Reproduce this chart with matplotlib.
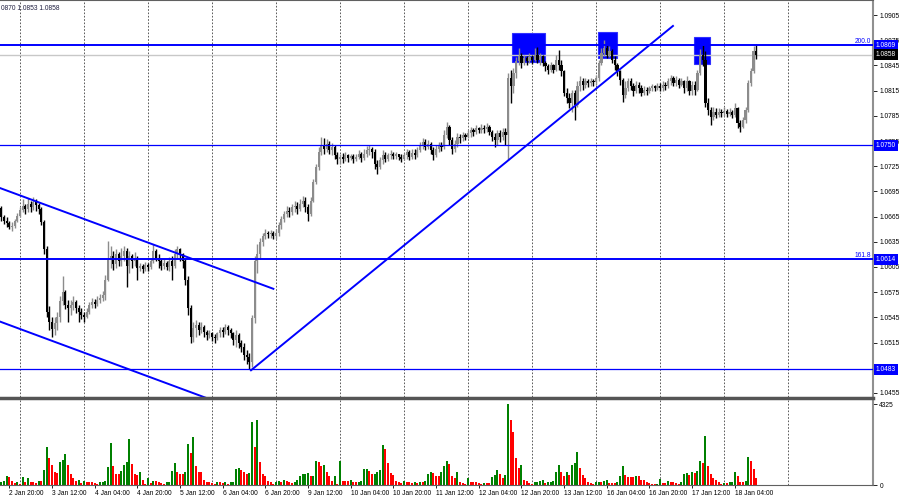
import numpy as np
import pandas as pd
import matplotlib
matplotlib.use('Agg')
import matplotlib.pyplot as plt
import matplotlib.transforms as mtransforms
from matplotlib.lines import Line2D
from matplotlib.patches import Rectangle
from matplotlib.ticker import FormatStrFormatter

plt.rcParams['font.family'] = ['Liberation Sans', 'DejaVu Sans']

# EURUSD H1, 2 Jan 17:00 .. 18 Jan 12:00
first_open = 1.0675
close = [
    1.0664, 1.0660, 1.0657, 1.0653, 1.0654, 1.0660, 1.0666,
    1.0673, 1.0678, 1.0674, 1.0680, 1.0676, 1.0682, 1.0679, 1.0674,
    1.0659, 1.0626, 1.0552, 1.0540, 1.0531, 1.0538, 1.0546, 1.0564,
    1.0575, 1.0560, 1.0556, 1.0560, 1.0563, 1.0556, 1.0551, 1.0548,
    1.0546, 1.0552, 1.0560, 1.0563, 1.0561, 1.0566, 1.0568, 1.0572,
    1.0590, 1.0614, 1.0618, 1.0608, 1.0620, 1.0612, 1.0618, 1.0624,
    1.0606, 1.0618, 1.0612, 1.0616, 1.0604, 1.0606, 1.0603, 1.0607,
    1.0605, 1.0612, 1.0624, 1.0616, 1.0612, 1.0606, 1.0610, 1.0605,
    1.0612, 1.0606, 1.0620, 1.0626, 1.0620, 1.0612, 1.0590, 1.0556,
    1.0522, 1.0532, 1.0536, 1.0530, 1.0534, 1.0528, 1.0524, 1.0526,
    1.0522, 1.0520, 1.0526, 1.0530, 1.0528, 1.0533, 1.0530, 1.0526,
    1.0518, 1.0524, 1.0514, 1.0510, 1.0500, 1.0498, 1.0492, 1.0544,
    1.0612, 1.0620, 1.0635, 1.0642, 1.0645, 1.0644, 1.0646, 1.0642,
    1.0646, 1.0655, 1.0662, 1.0668, 1.0672, 1.0670, 1.0676, 1.0678,
    1.0674, 1.0680, 1.0684, 1.0676, 1.0668, 1.0684, 1.0706, 1.0724,
    1.0742, 1.0750, 1.0746, 1.0752, 1.0744, 1.0748, 1.0738, 1.0733,
    1.0736, 1.0734, 1.0738, 1.0735, 1.0737, 1.0733, 1.0736, 1.0739,
    1.0735, 1.0740, 1.0744, 1.0746, 1.0742, 1.0728, 1.0724, 1.0732,
    1.0738, 1.0734, 1.0738, 1.0740, 1.0737, 1.0739, 1.0736, 1.0734,
    1.0738, 1.0742, 1.0736, 1.0741, 1.0738, 1.0744, 1.0750, 1.0754,
    1.0748, 1.0752, 1.0744, 1.0738, 1.0746, 1.0750, 1.0748, 1.0762,
    1.0772, 1.0756, 1.0746, 1.0752, 1.0760, 1.0758, 1.0762, 1.0760,
    1.0764, 1.0768, 1.0766, 1.0770, 1.0768, 1.0771, 1.0769, 1.0772,
    1.0766, 1.0760, 1.0756, 1.0764, 1.0760, 1.0766, 1.0762, 1.0830,
    1.0820, 1.0836, 1.0850, 1.0856, 1.0848, 1.0854, 1.0850, 1.0855,
    1.0852, 1.0858, 1.0852, 1.0856, 1.0848, 1.0844, 1.0840, 1.0845,
    1.0840, 1.0852, 1.0846, 1.0838, 1.0812, 1.0806, 1.0800, 1.0812,
    1.0798, 1.0820, 1.0826, 1.0822, 1.0826, 1.0824, 1.0827, 1.0825,
    1.0830, 1.0848, 1.0860, 1.0866, 1.0858, 1.0862, 1.0852, 1.0846,
    1.0838, 1.0828, 1.0810, 1.0818, 1.0826, 1.0820, 1.0814, 1.0822,
    1.0818, 1.0812, 1.0816, 1.0814, 1.0818, 1.0820, 1.0818, 1.0821,
    1.0818, 1.0822, 1.0820, 1.0826, 1.0830, 1.0824, 1.0828, 1.0822,
    1.0826, 1.0818, 1.0826, 1.0814, 1.0822, 1.0816, 1.0836, 1.0858,
    1.0852, 1.0800, 1.0792, 1.0784, 1.0790, 1.0786, 1.0790, 1.0788,
    1.0791, 1.0787, 1.0790, 1.0786, 1.0794, 1.0776, 1.0772, 1.0780,
    1.0792, 1.0824, 1.0838, 1.0862, 1.0858,
]
high = [
    1.0678, 1.0667, 1.0664, 1.0660, 1.0658, 1.0662, 1.0669,
    1.0676, 1.0686, 1.0680, 1.0687, 1.0683, 1.0688, 1.0686, 1.0681,
    1.0676, 1.0661, 1.0630, 1.0558, 1.0545, 1.0546, 1.0552, 1.0570,
    1.0594, 1.0578, 1.0566, 1.0566, 1.0570, 1.0566, 1.0560, 1.0556,
    1.0552, 1.0556, 1.0563, 1.0568, 1.0567, 1.0570, 1.0573, 1.0576,
    1.0595, 1.0636, 1.0630, 1.0624, 1.0626, 1.0623, 1.0628, 1.0630,
    1.0628, 1.0624, 1.0620, 1.0623, 1.0618, 1.0610, 1.0609, 1.0611,
    1.0610, 1.0615, 1.0632, 1.0627, 1.0620, 1.0615, 1.0614, 1.0612,
    1.0617, 1.0618, 1.0626, 1.0630, 1.0628, 1.0622, 1.0615, 1.0594,
    1.0560, 1.0540, 1.0542, 1.0540, 1.0540, 1.0536, 1.0530, 1.0530,
    1.0528, 1.0525, 1.0528, 1.0534, 1.0533, 1.0537, 1.0536, 1.0532,
    1.0528, 1.0530, 1.0526, 1.0518, 1.0514, 1.0506, 1.0503, 1.0548,
    1.0618, 1.0632, 1.0640, 1.0646, 1.0650, 1.0648, 1.0649, 1.0648,
    1.0650, 1.0658, 1.0666, 1.0672, 1.0678, 1.0676, 1.0680, 1.0684,
    1.0682, 1.0686, 1.0690, 1.0688, 1.0680, 1.0688, 1.0710, 1.0728,
    1.0748, 1.0760, 1.0758, 1.0757, 1.0755, 1.0753, 1.0750, 1.0742,
    1.0740, 1.0741, 1.0742, 1.0740, 1.0740, 1.0739, 1.0740, 1.0744,
    1.0742, 1.0745, 1.0749, 1.0750, 1.0748, 1.0745, 1.0732, 1.0736,
    1.0744, 1.0742, 1.0741, 1.0744, 1.0742, 1.0742, 1.0740, 1.0739,
    1.0741, 1.0746, 1.0744, 1.0746, 1.0745, 1.0748, 1.0754, 1.0758,
    1.0757, 1.0756, 1.0754, 1.0748, 1.0750, 1.0754, 1.0754, 1.0768,
    1.0778, 1.0774, 1.0760, 1.0756, 1.0764, 1.0763, 1.0766, 1.0765,
    1.0768, 1.0772, 1.0771, 1.0774, 1.0772, 1.0775, 1.0774, 1.0776,
    1.0774, 1.0768, 1.0764, 1.0768, 1.0768, 1.0770, 1.0770, 1.0836,
    1.0840, 1.0842, 1.0855, 1.0866, 1.0860, 1.0858, 1.0856, 1.0860,
    1.0858, 1.0866, 1.0867, 1.0860, 1.0858, 1.0850, 1.0847, 1.0849,
    1.0847, 1.0858, 1.0863, 1.0852, 1.0840, 1.0818, 1.0812, 1.0816,
    1.0816, 1.0826, 1.0832, 1.0830, 1.0830, 1.0829, 1.0830, 1.0829,
    1.0834, 1.0852, 1.0866, 1.0875, 1.0870, 1.0868, 1.0864, 1.0856,
    1.0848, 1.0840, 1.0830, 1.0826, 1.0830, 1.0830, 1.0824, 1.0826,
    1.0825, 1.0822, 1.0820, 1.0819, 1.0821, 1.0823, 1.0822, 1.0824,
    1.0824, 1.0826, 1.0825, 1.0830, 1.0834, 1.0832, 1.0832, 1.0830,
    1.0830, 1.0828, 1.0832, 1.0828, 1.0826, 1.0826, 1.0840, 1.0864,
    1.0869, 1.0862, 1.0806, 1.0796, 1.0796, 1.0794, 1.0794, 1.0793,
    1.0795, 1.0793, 1.0794, 1.0792, 1.0800, 1.0796, 1.0780, 1.0784,
    1.0796, 1.0828, 1.0842, 1.0868, 1.0870,
]
low = [
    1.0660, 1.0656, 1.0653, 1.0650, 1.0648, 1.0652, 1.0658,
    1.0664, 1.0670, 1.0668, 1.0671, 1.0670, 1.0673, 1.0672, 1.0668,
    1.0655, 1.0620, 1.0545, 1.0530, 1.0522, 1.0524, 1.0530, 1.0540,
    1.0560, 1.0555, 1.0540, 1.0548, 1.0554, 1.0550, 1.0540, 1.0543,
    1.0540, 1.0544, 1.0549, 1.0556, 1.0556, 1.0558, 1.0562, 1.0564,
    1.0566, 1.0588, 1.0604, 1.0602, 1.0604, 1.0606, 1.0606, 1.0612,
    1.0581, 1.0598, 1.0604, 1.0606, 1.0590, 1.0600, 1.0598, 1.0600,
    1.0600, 1.0603, 1.0610, 1.0612, 1.0604, 1.0601, 1.0603, 1.0601,
    1.0600, 1.0590, 1.0604, 1.0614, 1.0612, 1.0604, 1.0584, 1.0548,
    1.0515, 1.0516, 1.0522, 1.0524, 1.0526, 1.0522, 1.0518, 1.0520,
    1.0517, 1.0515, 1.0518, 1.0522, 1.0522, 1.0525, 1.0524, 1.0520,
    1.0512, 1.0510, 1.0508, 1.0504, 1.0494, 1.0490, 1.0483, 1.0486,
    1.0538, 1.0598, 1.0615, 1.0630, 1.0638, 1.0640, 1.0640, 1.0638,
    1.0638, 1.0642, 1.0650, 1.0658, 1.0664, 1.0664, 1.0667, 1.0670,
    1.0668, 1.0672, 1.0676, 1.0670, 1.0660, 1.0666, 1.0682, 1.0704,
    1.0720, 1.0738, 1.0740, 1.0742, 1.0740, 1.0738, 1.0733, 1.0728,
    1.0728, 1.0729, 1.0731, 1.0730, 1.0732, 1.0729, 1.0731, 1.0733,
    1.0730, 1.0732, 1.0736, 1.0738, 1.0735, 1.0722, 1.0716, 1.0722,
    1.0728, 1.0730, 1.0731, 1.0734, 1.0733, 1.0734, 1.0732, 1.0730,
    1.0732, 1.0734, 1.0732, 1.0733, 1.0734, 1.0736, 1.0742, 1.0746,
    1.0744, 1.0745, 1.0740, 1.0732, 1.0736, 1.0742, 1.0743, 1.0746,
    1.0758, 1.0750, 1.0740, 1.0742, 1.0748, 1.0753, 1.0755, 1.0756,
    1.0758, 1.0760, 1.0761, 1.0763, 1.0764, 1.0765, 1.0764, 1.0766,
    1.0762, 1.0755, 1.0748, 1.0750, 1.0754, 1.0756, 1.0750, 1.0732,
    1.0800, 1.0812, 1.0830, 1.0845, 1.0842, 1.0845, 1.0846, 1.0848,
    1.0847, 1.0850, 1.0848, 1.0846, 1.0844, 1.0838, 1.0835, 1.0837,
    1.0836, 1.0838, 1.0840, 1.0832, 1.0808, 1.0800, 1.0794, 1.0790,
    1.0780, 1.0796, 1.0814, 1.0816, 1.0818, 1.0819, 1.0821, 1.0820,
    1.0822, 1.0826, 1.0846, 1.0856, 1.0854, 1.0855, 1.0848, 1.0840,
    1.0832, 1.0822, 1.0802, 1.0806, 1.0814, 1.0816, 1.0808, 1.0812,
    1.0812, 1.0808, 1.0810, 1.0810, 1.0812, 1.0815, 1.0815, 1.0816,
    1.0814, 1.0815, 1.0816, 1.0818, 1.0822, 1.0820, 1.0821, 1.0818,
    1.0820, 1.0812, 1.0814, 1.0810, 1.0810, 1.0810, 1.0814, 1.0834,
    1.0844, 1.0796, 1.0786, 1.0774, 1.0780, 1.0782, 1.0784, 1.0784,
    1.0785, 1.0783, 1.0785, 1.0782, 1.0784, 1.0770, 1.0766, 1.0770,
    1.0776, 1.0790, 1.0820, 1.0836, 1.0853,
]
volume = [
    180, 216, 468, 432, 216, 90, 144, 36, 432, 144, 360,
    144, 144, 108, 216, 216, 792, 2052, 1440, 1080, 720,
    648, 1224, 1350, 1674, 1080, 612, 396, 216, 252, 90,
    216, 180, 180, 144, 108, 72, 144, 180, 216, 972,
    2250, 1008, 612, 612, 756, 1080, 1224, 2430, 1134, 594,
    540, 684, 252, 72, 360, 108, 216, 216, 144, 108,
    72, 144, 180, 756, 1170, 720, 612, 576, 720, 2214,
    1692, 2556, 1008, 720, 720, 288, 180, 144, 108, 72,
    144, 144, 108, 144, 72, 144, 180, 864, 900, 792,
    684, 612, 648, 3384, 2052, 3456, 1224, 612, 468, 216,
    144, 72, 144, 216, 144, 252, 216, 144, 108, 144,
    252, 468, 576, 612, 648, 468, 504, 1296, 1224, 1008,
    1044, 720, 468, 216, 468, 72, 1260, 216, 216, 216,
    288, 144, 144, 180, 216, 828, 864, 756, 576, 612,
    720, 792, 2160, 1908, 1188, 648, 540, 216, 144, 108,
    216, 144, 144, 108, 144, 108, 144, 144, 216, 576,
    720, 648, 468, 468, 720, 1008, 1296, 1116,
    504, 360, 684, 144, 108, 72, 360, 144, 144, 144,
    108, 72, 108, 108, 108, 432, 540, 792, 576, 396,
    540, 4320, 3456, 2844, 1440, 900, 1080, 288, 216, 108,
    72, 144, 180, 216, 252, 108, 144, 180, 216, 720,
    1044, 684, 468, 684, 540, 1044, 1188, 1764, 900, 540,
    360, 180, 108, 72, 144, 180, 144, 216, 252, 108,
    108, 108, 144, 504, 1008, 540, 432, 432, 432, 468,
    468, 288, 252, 180, 108, 72, 36, 72, 324, 108,
    108, 216, 180, 144, 108, 72, 144, 576, 648, 540,
    684, 648, 756, 1296, 1188, 2592, 1008, 576, 360, 252,
    144, 72, 108, 108, 144, 180, 684, 468, 144, 144,
    216, 1476, 1260, 864, 360,
]

header = '0870 1.0853 1.0858'
levels = [1.0869, 1.0750, 1.0614, 1.0483]
fibo_labels = {1.0869: '200.0', 1.0614: '161.8'}
bid = 1.0858
price_ticks = [1.0905, 1.0875, 1.0845, 1.0815, 1.0785, 1.0755, 1.0725, 1.0695,
               1.0665, 1.0635, 1.0605, 1.0575, 1.0545, 1.0515, 1.0455]

# trend lines as (bar, price) pairs
channel_top = [(-0.5, 1.0699), (102.0, 1.0579)]
channel_bottom = [(-0.5, 1.0540), (82.0, 1.0443)]
uptrend = [(93.6, 1.0482), (251.8, 1.0892)]

# blue zones: first bar, last bar, low, high
zones = [(191.5, 203.9, 1.0849, 1.0884),
         (223.7, 230.8, 1.0854, 1.0885),
         (259.7, 265.7, 1.0847, 1.0879)]

hours = pd.date_range('2023-01-02 17:00', '2023-01-18 12:00', freq='h')
times = hours[hours.dayofweek < 5]
n = len(times)
x = np.arange(n)

c = np.array(close)
o = np.r_[first_open, c[:-1]]
h = np.maximum(np.array(high), np.maximum(o, c))
l = np.minimum(np.array(low), np.minimum(o, c))
up = c >= o

W, H = 900, 500
fig = plt.figure(figsize=(9, 5), dpi=100)
ax = fig.add_axes([0, 1 - 397 / H, 873 / W, 397 / H])
axv = fig.add_axes([0, 1 - 485 / H, 873 / W, 85 / H], sharex=ax)

# day separators
days = list(x[times.hour == 0])
days.append(days[-1] + 24)
for d in days:
    for a in (ax, axv):
        a.axvline(d, color='#404040', lw=0.6, ls=(0, (2, 2)), zorder=1)

for x0, x1, lo, hi in zones:
    ax.add_patch(Rectangle((x0, lo), x1 - x0, hi - lo, fc='#0000ff', ec='#3030ff', lw=0.8, zorder=2))

ax.axhline(bid, color='#c8c8c8', lw=1, zorder=2)

cols = np.where(up, '#8c8c8c', 'black')
ax.vlines(x, l, h, colors=cols, lw=1.0, zorder=3)
ax.bar(x, np.maximum(np.abs(c - o), 0.00005), bottom=np.minimum(o, c), width=0.8,
       color=cols, lw=0, zorder=4)

for p in levels:
    ax.axhline(p, color='#0000ff', lw=1.4 if p in fibo_labels else 0.9, zorder=5)
for line in (channel_top, channel_bottom, uptrend):
    xs, ys = zip(*line)
    ax.plot(xs, ys, color='#0000ff', lw=1.4, zorder=5)

trans = mtransforms.blended_transform_factory(ax.transAxes, ax.transData)
for p, txt in fibo_labels.items():
    ax.text(0.998, p + 0.00005, txt, transform=trans, ha='right', va='bottom',
            fontsize=4.8, color='#0000ff', zorder=6)
for p in levels:
    ax.text(1.003, p, f'{p:.4f}', transform=trans, ha='left', va='center', fontsize=4.8,
            color='white', clip_on=False, zorder=10,
            bbox=dict(boxstyle='square,pad=0.3', fc='#0000ff', ec='none'))
ax.text(1.003, bid, f'{bid:.4f}', transform=trans, ha='left', va='center', fontsize=4.8,
        color='white', clip_on=False, zorder=10,
        bbox=dict(boxstyle='square,pad=0.3', fc='black', ec='none'))

ax.set_xlim(-0.5, 326.8)
ax.set_ylim(1.04502, 1.09229)
ax.yaxis.tick_right()
ax.set_yticks(price_ticks)
ax.yaxis.set_major_formatter(FormatStrFormatter('%.4f'))
ax.tick_params(axis='y', direction='out', length=3, width=0.6, labelsize=4.8, pad=1.5)
ax.tick_params(axis='x', bottom=False, labelbottom=False)
for s in ('left', 'bottom'):
    ax.spines[s].set_visible(False)
ax.spines['top'].set_color('#606060')
ax.spines['right'].set_color('#909090')
ax.spines['right'].set_linewidth(1.5)

vol = np.array(volume)
vcols = np.where(np.r_[True, vol[1:] > vol[:-1]], '#008000', '#ff0000')
axv.bar(x, vol, width=0.75, color=vcols, lw=0)
axv.set_ylim(0, 4539)
axv.yaxis.tick_right()
axv.set_yticks([0, 4325])
axv.set_yticklabels(['0', '4325'])
axv.tick_params(axis='y', direction='out', length=3, width=0.6, labelsize=4.8, pad=1.5)
tick_idx = np.arange(3, n, 16)
axv.set_xticks(tick_idx)
axv.set_xticklabels([f'{t.day} {t:%b %H:%M}' for t in times[tick_idx]], ha='left')
axv.tick_params(axis='x', direction='out', length=2.5, width=0.6, labelsize=4.8, pad=1)
for s in ('left', 'top'):
    axv.spines[s].set_visible(False)
axv.spines['bottom'].set_color('#606060')
axv.spines['right'].set_color('#909090')
axv.spines['right'].set_linewidth(1.5)

fig.add_artist(Line2D([0, 873 / W], [1 - 398 / H] * 2, color='#555555', lw=2.5,
                      transform=fig.transFigure))
fig.text(1 / W, 1 - 8 / H, header, fontsize=4.8, va='center', color='#202040')

fig.savefig('out.png', dpi=100)
